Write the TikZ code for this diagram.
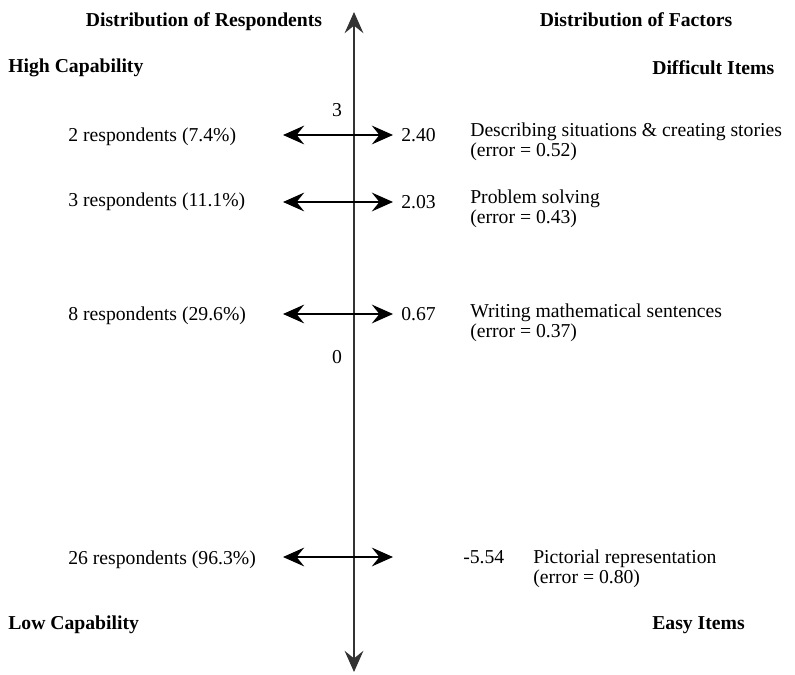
\documentclass[tikz,border=0pt]{standalone}
\usepackage{fontspec}
\setmainfont{Liberation Serif}
\usetikzlibrary{positioning,arrows.meta}

\begin{document}
\begin{tikzpicture}[
    x=0.025cm, y=-0.025cm,
    >={Stealth[length=0.53cm, width=0.47cm, inset=0.19cm]},
    txt/.style={inner sep=0pt, font=\fontsize{14}{14.5}\selectfont},
    heading/.style={txt, font=\fontsize{14}{14.5}\selectfont\bfseries},
    count/.style={txt, anchor=west},
    score/.style={txt, anchor=west},
    factor/.style={txt, anchor=west, align=left},
    spread/.style={<->, line width=0.9pt},
    mainaxis/.style={<->, line width=0.9pt, color=black!80}
]
\useasboundingbox (0,0) rectangle (795,675);

% Headings
\node[heading] (respTitle) at (204,22) {Distribution of Respondents};
\node[heading] (factTitle) at (636,20) {Distribution of Factors};
\node[heading, anchor=west] (high) at (8,68) {High Capability};
\node[heading, anchor=west] (diff) at (652,68) {Difficult Items};
\node[heading, anchor=west] (low) at (8,625) {Low Capability};
\node[heading, anchor=west] (easy) at (652,625) {Easy Items};

% Vertical scale
\coordinate (top) at (354,12);
\coordinate (bottom) at (354,672);
\draw[mainaxis] (bottom) -- (top);
\node[txt] (tick3) at (337,110) {3};
\node[txt] (tick0) at (337,357) {0};

% Arrow ends for each level
\coordinate (l1) at (283,135); \coordinate (r1) at (393,135);
\coordinate (l2) at (283,202); \coordinate (r2) at (393,202);
\coordinate (l3) at (283,314); \coordinate (r3) at (393,314);
\coordinate (l4) at (283,557); \coordinate (r4) at (393,557);

\draw[spread] (l1) -- (r1);
\draw[spread] (l2) -- (r2);
\draw[spread] (l3) -- (r3);
\draw[spread] (l4) -- (r4);

% Respondents
\node[count] (n1) at (68,137) {2 respondents (7.4\%)};
\node[count] (n2) at (68,202) {3 respondents (11.1\%)};
\node[count] (n3) at (68,316) {8 respondents (29.6\%)};
\node[count] (n4) at (68,560) {26 respondents (96.3\%)};

% Factor measures
\node[score, right=0.2cm of r1] (s1) {2.40};
\node[score, right=0.2cm of r2] (s2) {2.03};
\node[score, right=0.2cm of r3] (s3) {0.67};
\node[score] (s4) at (463,557) {-5.54};

\node[factor] (f1) at (470,142) {Describing situations \& creating stories\\(error = 0.52)};
\node[factor] (f2) at (470,209) {Problem solving\\(error = 0.43)};
\node[factor] (f3) at (470,323) {Writing mathematical sentences\\(error = 0.37)};
\node[factor] (f4) at (533,569) {Pictorial representation\\(error = 0.80)};

\end{tikzpicture}
\end{document}
